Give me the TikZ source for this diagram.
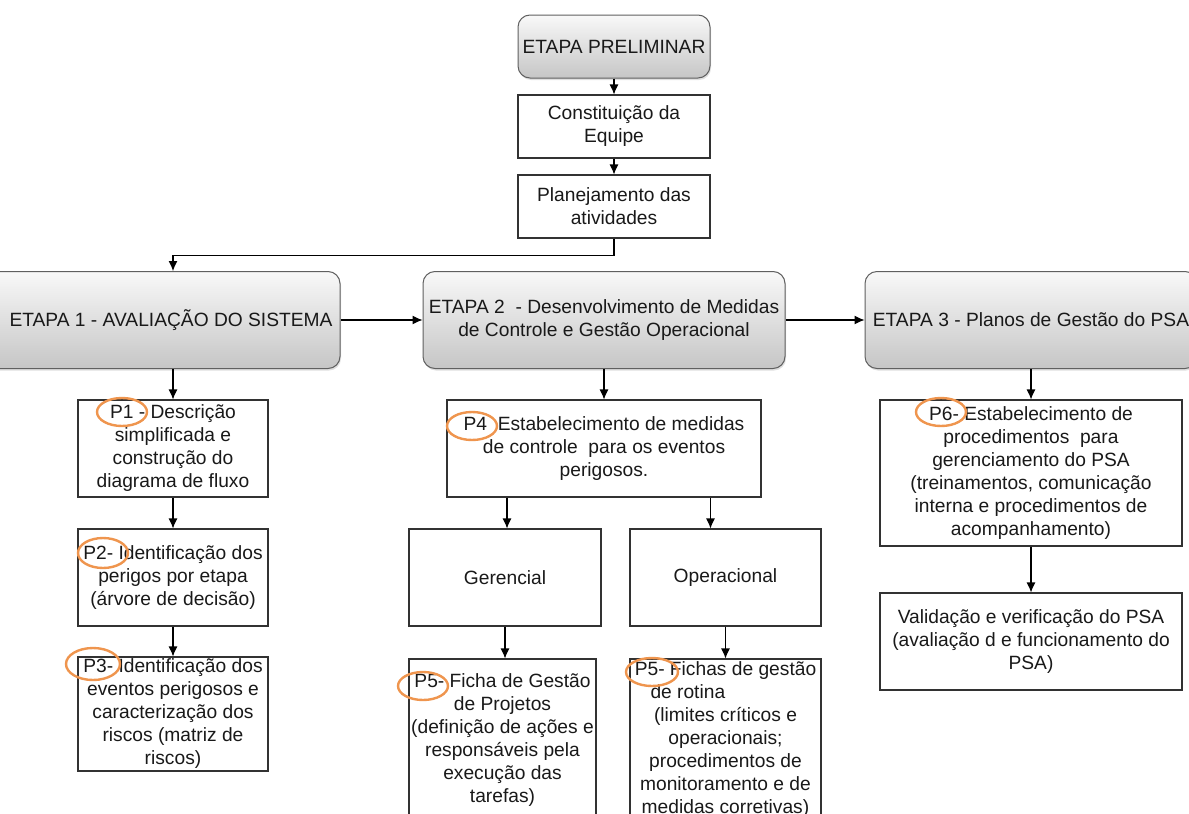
\documentclass[tikz,border=0pt]{standalone}
\usepackage{fontspec}
\setmainfont{Liberation Sans}
\usetikzlibrary{arrows.meta,shadows}
\definecolor{anelcor}{RGB}{239,149,78}
\definecolor{linhacor}{RGB}{50,50,50}

\begin{document}
\begin{tikzpicture}[x=1pt,y=-1pt,
    font=\fontsize{19.2}{23}\selectfont, text=black!90,
    etapa/.style={draw=gray!75!black, line width=1pt, rounded corners=12pt,
        top color=gray!5, bottom color=gray!45, align=center, inner sep=0pt,
        drop shadow={opacity=0.25, shadow xshift=1pt, shadow yshift=-2pt}},
    passo/.style={draw=linhacor, line width=1.1pt, fill=white, align=center, inner sep=0pt},
    seta/.style={-{Latex[length=10pt,width=9pt]}, line width=1.1pt},
    anel/.style={draw=anelcor, line width=2.4pt}]
    \clip (0,0) rectangle (1189,814);
    \fill[white] (0,0) rectangle (1189,814);
    % etapa preliminar
    \node[etapa, minimum width=192pt, minimum height=63pt] (prelim) at (614,46.5) {ETAPA PRELIMINAR};
    \node[passo, minimum width=192pt, minimum height=63pt] (equipe) at (614,126.5) {Constituição da\\Equipe};
    \node[passo, minimum width=192pt, minimum height=63pt] (plano) at (614,206.5) {Planejamento das\\atividades};
    % etapas
    \node[etapa, minimum width=360pt, minimum height=97pt] (etapa1) at (160,320) {\hspace*{22pt}ETAPA 1 - AVALIAÇÃO DO SISTEMA};
    \node[etapa, minimum width=362pt, minimum height=97pt] (etapa2) at (604,320) {ETAPA 2\ \ - Desenvolvimento de Medidas\\de Controle e Gestão Operacional};
    \node[etapa, minimum width=332pt, minimum height=97pt] (etapa3) at (1031,320) {ETAPA 3 - Planos de Gestão do PSA};
    % etapa 1
    \node[passo, minimum width=190pt, minimum height=97pt] (p1) at (173,448.5) {P1 - Descrição\\simplificada e\\construção do\\diagrama de fluxo};
    \node[passo, minimum width=190pt, minimum height=97pt] (p2) at (173,577.5) {P2- Identificação dos\\perigos por etapa\\(árvore de decisão)};
    \node[passo, minimum width=190pt, minimum height=114pt] (p3) at (173,714) {P3- Identificação dos\\eventos perigosos e\\caracterização dos\\riscos (matriz de\\riscos)};
    % etapa 2
    \node[passo, minimum width=314pt, minimum height=97pt] (p4) at (604,448.5) {P4\ \ Estabelecimento de medidas\\de controle\ \ para os eventos\\perigosos.};
    \node[passo, minimum width=192pt, minimum height=97pt] (ger) at (505,577.5) {Gerencial};
    \node[passo, minimum width=191pt, minimum height=97pt] (ope) at (725.5,577.5) {Operacional};
    \node[passo, minimum width=187pt, minimum height=162pt] (p5a) at (502.5,740) {P5- Ficha de Gestão\\de Projetos\\(definição de ações e\\responsáveis pela\\execução das\\tarefas)};
    \node[passo, minimum width=191pt, minimum height=162pt] (p5b) at (725.5,740) {P5- Fichas de gestão\\\makebox[150pt][l]{de rotina}\\(limites críticos e\\operacionais;\\procedimentos de\\monitoramento e de\\medidas corretivas)};
    % etapa 3
    \node[passo, minimum width=302pt, minimum height=146pt] (p6) at (1031,473) {P6- Estabelecimento de\\procedimentos\ \ para\\gerenciamento do PSA\\(treinamentos, comunicação\\interna e procedimentos de\\acompanhamento)};
    \node[passo, minimum width=302pt, minimum height=97pt] (valid) at (1031,641.5) {Validação e verificação do PSA\\(avaliação d e funcionamento do\\PSA)};
    % ligacoes
    \draw[seta] (prelim) -- (equipe);
    \draw[seta] (equipe) -- (plano);
    \draw[seta] (plano.south) -- ++(0,17) -| (etapa1.north -| p1.north);
    \draw[seta] (etapa1) -- (etapa2);
    \draw[seta] (etapa2) -- (etapa3);
    \draw[seta] (etapa1.south -| p1.north) -- (p1);
    \draw[seta] (p1) -- (p2);
    \draw[seta] (p2) -- (p3);
    \draw[seta] (etapa2.south -| p4.north) -- (p4);
    \draw[seta] ([xshift=2pt]p4.south -| ger.north) -- ([xshift=2pt]ger.north);
    \draw[seta] ([xshift=-15pt]p4.south -| ope.north) -- ([xshift=-15pt]ope.north);
    \draw[seta] (ger.south) -- (ger.south |- p5a.north);
    \draw[seta] (ope) -- (p5b);
    \draw[seta] (etapa3.south -| p6.north) -- (p6);
    \draw[seta] (p6) -- (valid);
    % aneis laranja
    \foreach \cx/\cy/\rx/\ry in {122/412/25/14, 103/553/25/15, 93/664/27/16, 472/426/25/14,
        423/686/25/14, 652/672/26/14, 941/412/25/14}
    \draw[anel] (\cx,\cy) ellipse ({\rx pt} and {\ry pt});
\end{tikzpicture}
\end{document}
